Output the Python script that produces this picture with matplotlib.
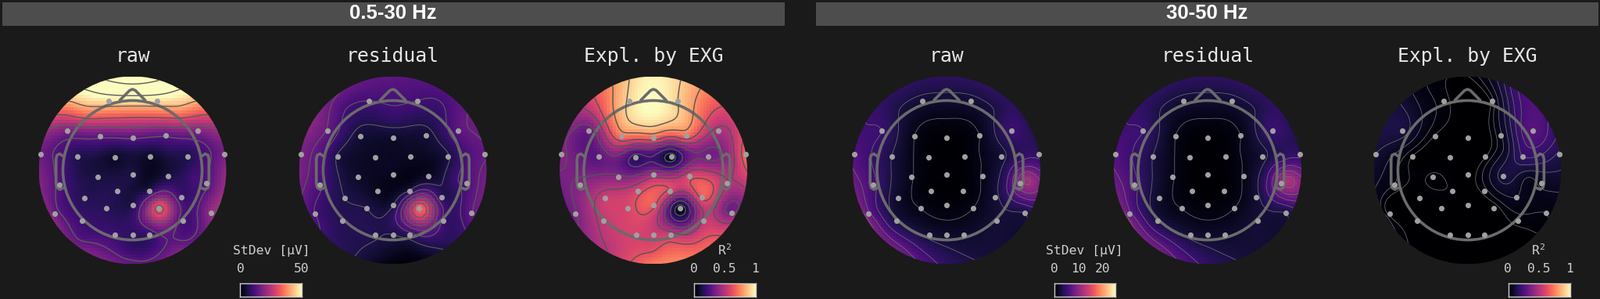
import numpy as np
import matplotlib
matplotlib.use("Agg")
import matplotlib.pyplot as plt
from matplotlib.patches import Circle, Rectangle

W, H = 2047, 382
BG = "#1a1a1a"

# ---- data: electrode positions (unit = scalp disc radius, y up)
elec_x = [-.256,.261,-.694,.694,-.342,0,.35,-.983,.983,-.586,-.189,.189,.586,-.375,0,.383,
          -.783,.786,-.164,.178,-.514,.519,-.278,0,.283,-.833,.836,-.536,.536,-.186,0,.183]
elec_y = [.739,.739,.419,.422,.364,.342,.367,.172,.167,.144,.139,.144,.147,-.069,-.042,-.064,
          -.153,-.139,-.219,-.217,-.297,-.289,-.408,-.369,-.403,-.461,-.456,-.536,-.536,-.686,-.686,-.686]
# extra read-off points away from the electrodes: rim every 30 deg, then inner spots
rim_angles = [0,30,60,90,120,150,180,210,240,270,300,330]
inner_x = [0,-.5,.5,-.55,.55,0,-.8,.8,.85,-.4,.4,.65]
inner_y = [.55,.65,.65,-.72,-.72,-.88,.1,.1,-.1,.22,.22,-.1]

# values as fraction of the colour range (electrodes, rim, inner)
raw_low_e = [.95,.95,.36,.38,.3,.28,.28,.32,.35,.14,.08,.08,.14,.12,.12,.12,.25,.25,.14,.14,.15,.2,.16,.14,.66,.32,.42,.2,.22,.2,.17,.2]
raw_low_r = [.4,.5,1.05,1.35,1.05,.5,.35,.38,.35,.3,.35,.42]
raw_low_i = [.6,.8,.8,.25,.25,.2,.25,.25,.3,.17,.17,.22]

res_low_e = [.22,.22,.3,.28,.1,.08,.1,.35,.3,.12,.07,.07,.12,.08,.06,.07,.24,.25,.06,.13,.13,.16,.13,.12,.68,.22,.3,.15,.2,.14,.13,.18]
res_low_r = [.33,.32,.25,.28,.3,.38,.35,.25,.15,.03,.12,.3]
res_low_i = [.18,.22,.2,.15,.17,.07,.27,.25,.28,.09,.09,.2]

exg_low_e = [.92,.9,.3,.47,.72,.68,.7,.38,.68,.28,.17,.05,.33,.38,.44,.58,.38,.5,.58,.6,.55,.65,.58,.65,.03,.35,.33,.53,.52,.58,.55,.55]
exg_low_r = [.62,.55,.78,.98,.73,.4,.36,.33,.5,.72,.68,.42]
exg_low_i = [.97,.7,.72,.5,.62,.63,.32,.42,.5,.45,.38,.58]

raw_high_e = [.1,.1,.2,.2,.045,.01,.045,.25,.18,.12,.015,.015,.1,.05,.01,.05,.22,.4,.01,.01,.08,.1,.045,.02,.045,.3,.12,.12,.1,.1,.08,.08]
raw_high_r = [.28,.16,.17,.17,.17,.2,.28,.36,.32,.17,.1,.12]
raw_high_i = [.045,.12,.12,.25,.1,.14,.2,.2,.45,.06,.06,.2]

res_high_e = [.1,.1,.2,.2,.045,.01,.045,.25,.18,.12,.015,.015,.1,.05,.01,.05,.22,.42,.01,.01,.08,.1,.045,.02,.045,.3,.12,.12,.1,.1,.08,.08]
res_high_r = [.3,.16,.17,.17,.17,.2,.28,.36,.32,.17,.1,.12]
res_high_i = [.045,.12,.12,.25,.1,.14,.2,.2,.47,.06,.06,.22]

exg_high_e = [.02,.02,.12,.27,.01,0,.05,.1,.13,.01,0,.01,.18,.015,0,.12,.03,.07,.01,.02,0,.06,0,0,0,0,.03,0,.02,0,0,0]
exg_high_r = [.1,.22,.2,.01,.04,.13,.08,.03,0,0,0,.03]
exg_high_i = [0,.06,.18,0,0,0,.05,.15,.08,0,.07,.05]

titles = ["raw", "residual", "Expl. by EXG"]
band_labels = ["0.5-30 Hz", "30-50 Hz"]
cbar_titles = ["StDev [µV]", r"R$^{\mathtt{2}}$", "StDev [µV]", r"R$^{\mathtt{2}}$"]
cbar_ticks = [["0", "50"], ["0", "0.5", "1"], ["0", "10", "20"], ["0", "0.5", "1"]]

panels = [
    (169.5, raw_low_e, raw_low_r, raw_low_i, [.27,.45,.62,.85,1.05,1.25,1.45], "#5c5c5c", 1.0),
    (502.5, res_low_e, res_low_r, res_low_i, [.13,.22,.31,.4,.49,.58], "#5c5c5c", .8),
    (836,   exg_low_e, exg_low_r, exg_low_i, [.1,.22,.36,.5,.62,.78,.9], "#555555", 1.0),
    (1211,  raw_high_e, raw_high_r, raw_high_i, [.045,.12,.2,.28,.36,.44], "#6e6e6e", .55),
    (1545,  res_high_e, res_high_r, res_high_i, [.045,.12,.2,.28,.36,.44], "#6e6e6e", .55),
    (1877.5,exg_high_e, exg_high_r, exg_high_i, [.012,.03,.06,.1,.14,.18,.22], "#6e6e6e", .55),
]
CY, R = 217.5, 120

plt.rcParams["font.family"] = "DejaVu Sans Mono"
plt.rcParams["mathtext.fontset"] = "dejavusans"
fig = plt.figure(figsize=(W / 100, H / 100), dpi=100, facecolor=BG)


def fx(x):
    return x / W


def fy(y):
    return 1 - y / H


def scatter_field(px, py, pv, gx, gy):
    """Thin-plate spline through the read-off points, as a topomap does."""
    px, py, pv = map(np.asarray, (px, py, pv))
    def phi(d):
        return np.where(d > 0, d * d * np.log(np.maximum(d, 1e-9)), 0.0)
    n = len(px)
    K = phi(np.hypot(px[:, None] - px[None], py[:, None] - py[None]))
    P = np.c_[np.ones(n), px, py]
    A = np.block([[K, P], [P.T, np.zeros((3, 3))]])
    sol = np.linalg.solve(A, np.r_[pv, np.zeros(3)])
    d = np.hypot(gx[..., None] - px, gy[..., None] - py)
    return (phi(d) * sol[:n]).sum(-1) + sol[n] + sol[n + 1] * gx + sol[n + 2] * gy


rim_x = .99 * np.cos(np.radians(rim_angles))
rim_y = .99 * np.sin(np.radians(rim_angles))
all_x = np.r_[elec_x, rim_x, inner_x]
all_y = np.r_[elec_y, rim_y, inner_y]

edges = np.linspace(-1, 1, 61)
cc = (edges[:-1] + edges[1:]) / 2
gx, gy = np.meshgrid(cc, cc)
fine = np.linspace(-1, 1, 241)
fxx, fyy = np.meshgrid(fine, fine)

HEAD = .742
HC = "#6b6b6b"
HLW = 2.6
for cx, ve, vr, vi, levels, lc, llw in panels:
    ax = fig.add_axes([fx(cx - R), fy(CY + R), 2 * R / W, 2 * R / H])
    ax.set_xlim(-1, 1)
    ax.set_ylim(-1, 1)
    ax.axis("off")
    vals = np.r_[ve, vr, vi]
    clip = Circle((0, 0), 1, transform=ax.transData)
    z = np.clip(scatter_field(all_x, all_y, vals, gx, gy), 0, None)
    im = ax.imshow(z, extent=(-1, 1, -1, 1), origin="lower", cmap="magma", vmin=0, vmax=1,
                   interpolation="nearest")
    im.set_clip_path(clip)
    zf = scatter_field(all_x, all_y, vals, fxx, fyy)
    cs = ax.contour(fxx, fyy, zf, levels=levels, colors=lc, linewidths=llw)
    cs.set_clip_path(clip)
    # head outline
    ax.add_patch(Circle((0, 0), HEAD, fill=False, ec=HC, lw=HLW, clip_on=False))
    ax.plot([-.135, -.03, 0, .03, .135], [.745, .85, .862, .85, .745], color=HC, lw=HLW,
            solid_joinstyle="round", solid_capstyle="round", clip_on=False)
    ear_x = np.array([.74, .775, .805, .815, .815, .805, .775, .74])
    ear_y = np.array([.15, .175, .16, .12, -.14, -.185, -.205, -.19])
    for s in (-1, 1):
        ax.plot(s * ear_x, ear_y, color=HC, lw=HLW, solid_joinstyle="round",
                solid_capstyle="round", clip_on=False)
    ax.scatter(elec_x, elec_y, s=26, color="#a0a0a0", linewidths=0, zorder=5, clip_on=False)

# titles
for i, (cx, *_) in enumerate(panels):
    fig.text(fx(cx), fy(72), titles[i % 3], color="#e6e6e6", fontsize=17.8, ha="center", va="center")

# band headers
for (x0, x1), lab in zip([(3, 1003), (1044, 2044)], band_labels):
    fig.add_artist(Rectangle((fx(x0), fy(32)), (x1 - x0) / W, 29 / H, transform=fig.transFigure,
                             fc="#4d4d4d", ec="#5a5a5a", lw=.5))
    fig.text(fx((x0 + x1) / 2), fy(17.5), lab, color="white", fontsize=18.5, fontweight="bold",
             family="Liberation Sans", ha="center", va="center")

# colour bars
bars = [(307, 386, 347, 320, [308, 386]),
        (888, 967, 927, 320, [888, 927, 966]),
        (1349, 1427, 1387, 320, [1349, 1380, 1411]),
        (1930, 2009, 1968, 320, [1929, 1969, 2008])]
ramp = np.linspace(0, 1, 256)[None, :]
for (x0, x1, tx, ty, tk), ct, ticks in zip(bars, cbar_titles, cbar_ticks):
    ax = fig.add_axes([fx(x0), fy(379), (x1 - x0) / W, 17 / H])
    ax.imshow(ramp, aspect="auto", cmap="magma", vmin=0, vmax=1)
    ax.set_xticks([])
    ax.set_yticks([])
    for sp in ax.spines.values():
        sp.set_color("#cccccc")
        sp.set_linewidth(1)
    fig.text(fx(tx), fy(ty), ct, color="#cfcfcf", fontsize=11.8, ha="center", va="center")
    for t, lab in zip(tk, ticks):
        fig.text(fx(t), fy(344), lab, color="#cfcfcf", fontsize=11.8, ha="center", va="center")

fig.savefig("out.png", dpi=100, facecolor=BG)
